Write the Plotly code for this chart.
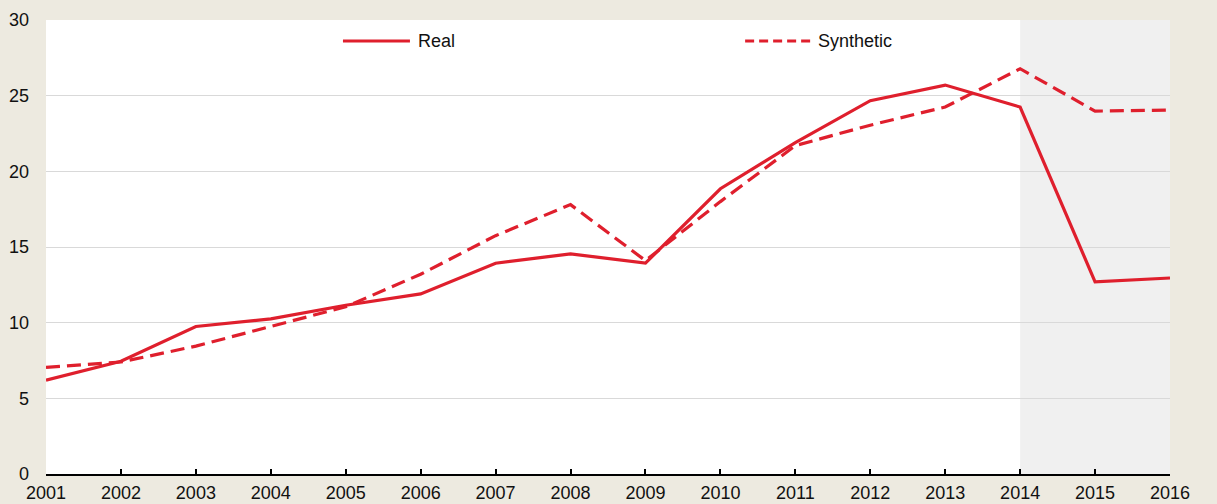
import plotly.graph_objects as go

years = list(range(2001, 2017))
real = [6.2, 7.45, 9.75, 10.25, 11.15, 11.9, 13.93, 14.55, 13.93, 18.85, 21.9, 24.67, 25.7, 24.25, 12.7, 12.95]
synthetic = [7.05, 7.4, 8.45, 9.75, 11.05, 13.2, 15.75, 17.8, 14.1, 18.0, 21.7, 23.05, 24.25, 26.78, 23.98, 24.05]
y_ticks = [0, 5, 10, 15, 20, 25, 30]
shade_start, shade_end = 2014, 2016

RED = "#DF1F2D"
FONT = "Liberation Sans Narrow, Arial Narrow, Liberation Sans, Arial, sans-serif"
FS = 18

fig = go.Figure()
fig.add_trace(go.Scatter(x=years, y=real, mode="lines", name="Real",
                         line=dict(color=RED, width=3.2), showlegend=False))
fig.add_trace(go.Scatter(x=years, y=synthetic, mode="lines", name="Synthetic",
                         line=dict(color=RED, width=3.2, dash="14px,7px"), showlegend=False))

# shaded projection period
fig.add_shape(type="rect", xref="x", yref="paper", x0=shade_start, x1=shade_end, y0=0, y1=1,
              fillcolor="#F0F0F0", line=dict(width=0), layer="below")

# manual legend
leg_y = 0.9537
fig.add_shape(type="line", xref="paper", yref="paper", x0=0.2642, x1=0.3238, y0=leg_y, y1=leg_y,
              line=dict(color=RED, width=3.2))
fig.add_annotation(xref="paper", yref="paper", x=0.329, y=leg_y, text="Real", showarrow=False,
                   xanchor="left", yanchor="middle", font=dict(family=FONT, size=FS, color="#111"))
fig.add_shape(type="line", xref="paper", yref="paper", x0=0.622, x1=0.6815, y0=leg_y, y1=leg_y,
              line=dict(color=RED, width=3.2, dash="9px,5px"))
fig.add_annotation(xref="paper", yref="paper", x=0.685, y=leg_y, text="Synthetic", showarrow=False,
                   xanchor="left", yanchor="middle", font=dict(family=FONT, size=FS, color="#111"))

fig.update_layout(
    width=1217, height=504,
    margin=dict(l=46, r=47, t=20, b=30, autoexpand=False),
    paper_bgcolor="#EDEAE0",
    plot_bgcolor="#FFFFFF",
    font=dict(family=FONT, size=FS, color="#111"),
    xaxis=dict(range=[2001, 2016], tickmode="array", tickvals=years, ticktext=[str(y) for y in years],
               showgrid=False, zeroline=False, showline=True, linecolor="#000", linewidth=1.5,
               ticks="inside", ticklen=5, tickcolor="#000", tickwidth=1.5, ticklabelstandoff=2,
               automargin=False),
    yaxis=dict(range=[0, 30], tickvals=y_ticks, showgrid=True, gridcolor="#D9D9D9", gridwidth=1.3,
               zeroline=False, showline=False, ticks="", ticklabelstandoff=16, automargin=False),
    yaxis2=dict(range=[0, 30], tickvals=y_ticks, overlaying="y", side="right", showgrid=False,
                zeroline=False, showline=False, ticks="", ticklabelstandoff=16, automargin=False),
)

fig.write_html("out.html", config={"displayModeBar": False},
               post_script="document.body.style.margin='0px';document.body.style.overflow='hidden';")
